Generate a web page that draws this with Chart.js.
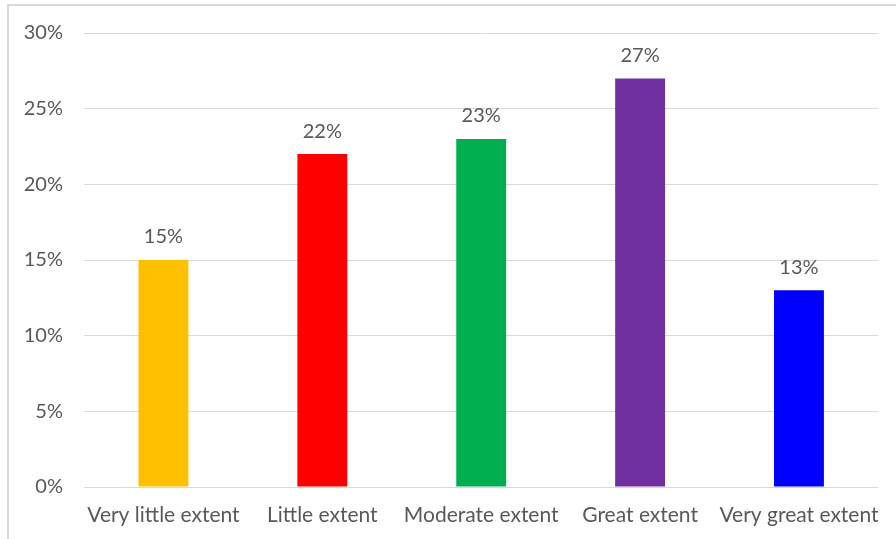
<!DOCTYPE html>
<html>
<head>
<meta charset="utf-8">
<script src="https://cdn.jsdelivr.net/npm/chart.js@4/dist/chart.umd.min.js"></script>
<style>
  html, body { margin: 0; padding: 0; background: #fff; overflow: hidden; }
  #wrap { position: relative; width: 896px; height: 539px; }
  #frame { position: absolute; left: 7px; top: 4px; width: 900px; height: 600px;
           border: 2px solid #d9d9d9; box-sizing: border-box; pointer-events: none; }
  canvas { position: absolute; left: 0; top: 0; }
</style>
</head>
<body>
<div id="wrap">
  <canvas id="chart" width="896" height="539"></canvas>
  <div id="frame"></div>
</div>
<script>
const categories = ["Very little extent", "Little extent", "Moderate extent", "Great extent", "Very great extent"];
const shares = [15, 22, 23, 27, 13];
const barColors = ["#FFC000", "#FF0000", "#00B050", "#7030A0", "#0000FF"];
const yTicks = [0, 5, 10, 15, 20, 25, 30];

const FONT = "Lato, 'Open Sans', sans-serif";
const TEXT = "#595959";

const valueLabels = {
  id: "valueLabels",
  afterDatasetsDraw(chart) {
    const ctx = chart.ctx;
    const meta = chart.getDatasetMeta(0);
    ctx.save();
    ctx.font = "20px " + FONT;
    ctx.fillStyle = TEXT;
    ctx.textAlign = "center";
    ctx.textBaseline = "middle";
    meta.data.forEach((bar, i) => {
      ctx.fillText(shares[i] + "%", bar.x, bar.y - 23);
    });
    ctx.restore();
  }
};

new Chart(document.getElementById("chart"), {
  type: "bar",
  data: {
    labels: categories,
    datasets: [{
      data: shares,
      backgroundColor: barColors,
      borderWidth: 0,
      barPercentage: 1,
      categoryPercentage: 0.314
    }]
  },
  options: {
    responsive: false,
    animation: false,
    devicePixelRatio: 1,
    layout: { padding: { top: 33, right: 15, left: 0, bottom: 0 } },
    plugins: { legend: { display: false }, tooltip: { enabled: false } },
    scales: {
      x: {
        grid: { display: false, drawTicks: false },
        border: { display: false },
        ticks: { color: TEXT, font: { family: FONT, size: 21 }, padding: 16, maxRotation: 0, autoSkip: false },
        afterFit(s) { s.height = 52; }
      },
      y: {
        min: 0, max: 30,
        afterBuildTicks(s) { s.ticks = yTicks.map(v => ({ value: v })); },
        grid: { color: "#d9d9d9", lineWidth: 1, drawTicks: false },
        border: { display: false },
        ticks: { color: TEXT, font: { family: FONT, size: 20 }, padding: 21, callback: v => v + "%" },
        afterFit(s) { s.width = 84; }
      }
    }
  },
  plugins: [valueLabels]
});
</script>
</body>
</html>
